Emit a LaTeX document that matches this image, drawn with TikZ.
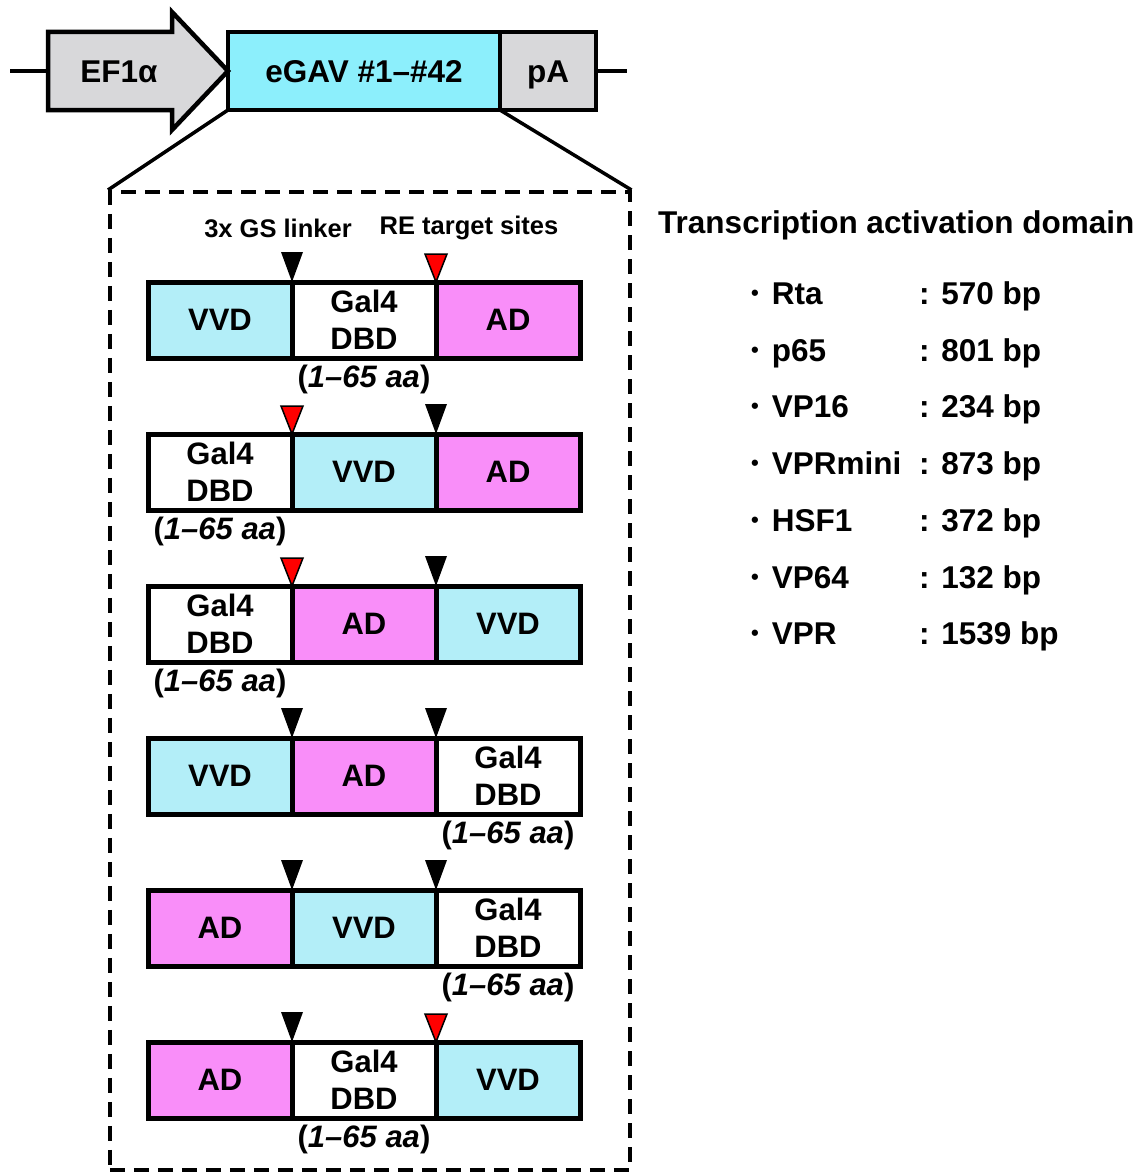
\documentclass[tikz,border=0pt]{standalone}
\usepackage{fontspec}
\setmainfont{Liberation Sans}
\usetikzlibrary{positioning}
\definecolor{vvdcol}{HTML}{B3EEF8}
\definecolor{adcol}{HTML}{F98EF9}
\definecolor{egavcol}{HTML}{8CEFFC}
\definecolor{partgray}{HTML}{D8D8DA}
\tikzset{
part/.style={draw, line width=4.5pt, outer sep=0pt, inner sep=0pt, minimum height=78pt, text height=22pt, text depth=0pt, font=\fontsize{31.5}{37}\selectfont\bfseries}, % boxes of the vector
seg/.style={draw, line width=5pt, outer sep=0pt, inner sep=0pt, minimum width=144pt, minimum height=76pt, align=center, font=\fontsize{31}{37}\selectfont\bfseries}, % one domain of a construct
vvd/.style={seg, fill=vvdcol},
ad/.style={seg, fill=adcol},
dbd/.style={seg, fill=white},
aa/.style={font=\fontsize{31}{37}\selectfont\bfseries, inner sep=3pt}, % the (1-65 aa) note
note/.style={font=\fontsize{25.5}{30}\selectfont\bfseries}, % labels of the markers
item/.style={anchor=base west, inner sep=0pt, font=\fontsize{31.5}{37}\selectfont\bfseries}, % list on the right
}
\newcommand{\gslink}[1]{\fill[black] (#1) -- ++(-11,-30) -- ++(22,0) -- cycle;}
\newcommand{\resite}[1]{\filldraw[fill=red, draw=black, line width=1.5pt] (#1) -- ++(-11,-28) -- ++(22,0) -- cycle;}
\newcommand{\dotmark}{\raisebox{3.5pt}{\fontsize{22}{22}\selectfont•}\hspace{13pt}}

\begin{document}
\begin{tikzpicture}[x=1pt, y=-1pt, line join=miter]
\useasboundingbox (0,0) rectangle (1147,1172);

% vector
\node[part, fill=egavcol, minimum width=272pt, anchor=west] (egav) at (228,71) {eGAV \#1–\#42};
\node[part, fill=partgray, minimum width=96pt, right=0pt of egav] (pa) {pA};
\draw[line width=4.5pt, fill=partgray] (48,32) -- (172,32) -- (172,12) -- (egav.west) -- (172,130) -- (172,110) -- (48,110) -- cycle;
\node[font=\fontsize{31.5}{37}\selectfont\bfseries, text height=22pt, text depth=0pt] (ef1a) at (119,71) {EF1α};
\coordinate (lend) at (10,71);
\coordinate (rend) at (627,71);
\draw[line width=3.5pt] (lend) -- (48,71);
\draw[line width=3.5pt] (pa.east) -- (rend);

% zoom frame
\node[draw, line width=3.5pt, dash pattern=on 15pt off 9pt, minimum width=520pt, minimum height=978pt, anchor=north west] (frame) at (108,190) {};
\draw[line width=3.5pt] (egav.south west) -- (frame.north west);
\draw[line width=3.5pt] (egav.south east) -- (frame.north east);

\node[note] (gslab) at (278,228) {3x GS linker};
\node[note] (relab) at (469,228) {RE target sites};

% construct 1
\node[vvd, anchor=north west] (r1a) at (148,282) {VVD};
\node[dbd, right=0pt of r1a] (r1b) {Gal4\\DBD};
\node[ad, right=0pt of r1b] (r1c) {AD};
\node[aa, below=4pt of r1b] (r1n) {(\textit{1–65 aa})};
\gslink{r1a.north east}
\resite{r1b.north east}

% construct 2
\node[dbd, anchor=north west] (r2a) at (148,434) {Gal4\\DBD};
\node[vvd, right=0pt of r2a] (r2b) {VVD};
\node[ad, right=0pt of r2b] (r2c) {AD};
\node[aa, below=4pt of r2a] (r2n) {(\textit{1–65 aa})};
\resite{r2a.north east}
\gslink{r2b.north east}

% construct 3
\node[dbd, anchor=north west] (r3a) at (148,586) {Gal4\\DBD};
\node[ad, right=0pt of r3a] (r3b) {AD};
\node[vvd, right=0pt of r3b] (r3c) {VVD};
\node[aa, below=4pt of r3a] (r3n) {(\textit{1–65 aa})};
\resite{r3a.north east}
\gslink{r3b.north east}

% construct 4
\node[vvd, anchor=north west] (r4a) at (148,738) {VVD};
\node[ad, right=0pt of r4a] (r4b) {AD};
\node[dbd, right=0pt of r4b] (r4c) {Gal4\\DBD};
\node[aa, below=4pt of r4c] (r4n) {(\textit{1–65 aa})};
\gslink{r4a.north east}
\gslink{r4b.north east}

% construct 5
\node[ad, anchor=north west] (r5a) at (148,890) {AD};
\node[vvd, right=0pt of r5a] (r5b) {VVD};
\node[dbd, right=0pt of r5b] (r5c) {Gal4\\DBD};
\node[aa, below=4pt of r5c] (r5n) {(\textit{1–65 aa})};
\gslink{r5a.north east}
\gslink{r5b.north east}

% construct 6
\node[ad, anchor=north west] (r6a) at (148,1042) {AD};
\node[dbd, right=0pt of r6a] (r6b) {Gal4\\DBD};
\node[vvd, right=0pt of r6b] (r6c) {VVD};
\node[aa, below=4pt of r6b] (r6n) {(\textit{1–65 aa})};
\gslink{r6a.north east}
\resite{r6b.north east}

% activation domains
\node[item] (title) at (658,233) {Transcription activation domain};
\node[item] (rta) at (751,304) {\dotmark Rta};
\node[item] (rtabp) at (919,304) {: 570 bp};
\node[item] (p65) at (751,361) {\dotmark p65};
\node[item] (p65bp) at (919,361) {: 801 bp};
\node[item] (vp16) at (751,417) {\dotmark VP16};
\node[item] (vp16bp) at (919,417) {: 234 bp};
\node[item] (vprmini) at (751,474) {\dotmark VPRmini};
\node[item] (vprminibp) at (919,474) {: 873 bp};
\node[item] (hsf1) at (751,531) {\dotmark HSF1};
\node[item] (hsf1bp) at (919,531) {: 372 bp};
\node[item] (vp64) at (751,588) {\dotmark VP64};
\node[item] (vp64bp) at (919,588) {: 132 bp};
\node[item] (vpr) at (751,644) {\dotmark VPR};
\node[item] (vprbp) at (919,644) {: 1539 bp};
\end{tikzpicture}
\end{document}
